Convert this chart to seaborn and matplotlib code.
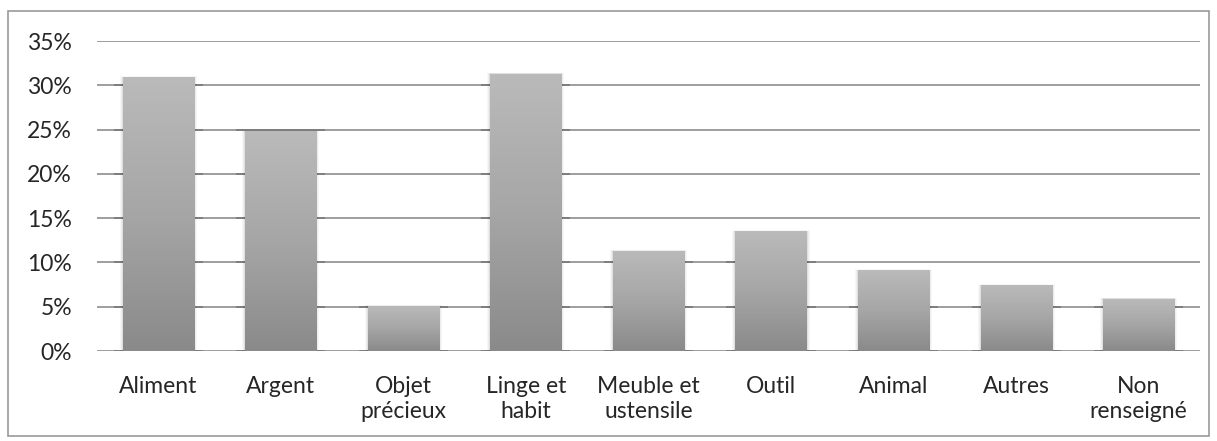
import numpy as np
import matplotlib
matplotlib.use('Agg')
import matplotlib.pyplot as plt
import seaborn as sns
from matplotlib.patches import Rectangle
from matplotlib.ticker import PercentFormatter

# données
categories = ['Aliment', 'Argent', 'Objet\nprécieux', 'Linge et\nhabit', 'Meuble et\nustensile',
              'Outil', 'Animal', 'Autres', 'Non\nrenseigné']
values = [0.309, 0.248, 0.051, 0.313, 0.113, 0.135, 0.091, 0.074, 0.059]
yticks = [0, 0.05, 0.10, 0.15, 0.20, 0.25, 0.30, 0.35]

sns.set_theme(style='white')
plt.rcParams['font.family'] = ['Lato', 'DejaVu Sans']

fig = plt.figure(figsize=(12.17, 4.41), dpi=100)
ax = fig.add_axes([0.0797, 0.204, 0.9063, 0.703])

sns.barplot(x=categories, y=values, color='#9a9a9a', width=0.58, ax=ax, zorder=3,
            edgecolor='none', linewidth=0)

ax.set_xlim(-0.5, len(categories) - 0.5)
ax.set_ylim(0, 0.35)
px = (len(categories)) / (0.9063 * 1217)  # un pixel en unités x

# dégradé vertical + ombre légère
grad = np.repeat(np.linspace(0, 1, 300).reshape(-1, 1), 2, axis=1)
cmap = matplotlib.colors.LinearSegmentedColormap.from_list('g', ['#8a8a8a', '#a6a6a6', '#bababa'])
bars = list(ax.patches)
for p in bars:
    x0, w, h = p.get_x(), p.get_width(), p.get_height()
    for k, a in [(3, 0.03), (2, 0.04), (1, 0.06)]:
        ax.add_patch(Rectangle((x0 - k * px, 0), w + 2 * k * px, h + k * 0.0004,
                               facecolor='black', alpha=a, zorder=2, lw=0))
    # lignes de grille assombries près des barres
    for t in yticks:
        if t <= h + 0.004:
            ax.plot([x0 - 9 * px, x0 + w + 9 * px], [t, t], color='#7c7c7c', lw=1.3,
                    zorder=1.5, solid_capstyle='butt')
    im = ax.imshow(grad, extent=[x0 - 2 * px, x0 + w + 2 * px, 0, h], origin='lower',
                   aspect='auto', cmap=cmap, vmin=0, vmax=1, zorder=4, interpolation='nearest')
    im.set_clip_path(p)

ax.set_xlim(-0.5, len(categories) - 0.5)
ax.set_ylim(0, 0.35)
ax.set_yticks(yticks)
ax.yaxis.set_major_formatter(PercentFormatter(1.0, decimals=0))
ax.yaxis.grid(True, color='#8e8e8e', linewidth=1.2, zorder=1)
ax.set_axisbelow(True)
for s in ['top', 'right', 'left', 'bottom']:
    ax.spines[s].set_visible(False)
ax.tick_params(axis='both', length=0, labelsize=16.5, colors='#262626')
ax.tick_params(axis='y', pad=18)
ax.tick_params(axis='x', pad=18)
for lbl in ax.get_xticklabels():
    lbl.set_linespacing(1.25)
ax.set_xlabel('')
ax.set_ylabel('')

# cadre du graphique
fig.patches.append(Rectangle((8 / 1217, 5 / 441), 1201 / 1217, 425 / 441, transform=fig.transFigure,
                             fill=False, edgecolor='#999999', linewidth=1.2))

fig.savefig('out.png', dpi=100)
